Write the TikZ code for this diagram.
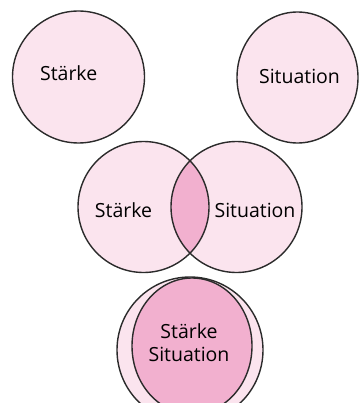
\documentclass[tikz,border=0pt]{standalone}
\usepackage{fontspec}
\setmainfont{Open Sans}
\begin{document}
\begin{tikzpicture}[x=1pt,y=-1pt,
  ring/.style={draw=ringcol,line width=1.4pt},
  lab/.style={font=\fontsize{19.5}{23}\selectfont,text=black,inner sep=0pt,align=center}]
\definecolor{ringcol}{HTML}{2B2B2B}
\definecolor{lightpink}{HTML}{FBE4EE}
\definecolor{darkpink}{HTML}{F2B0CF}
\useasboundingbox (0,0) rectangle (359,403);
\clip (0,0) rectangle (359,403);
% top
\draw[ring,fill=lightpink] (78.5,77) circle[radius=66];
\draw[ring,fill=lightpink] (297.5,77.5) ellipse[x radius=60.5,y radius=65.5];
\node[lab] (s1) at (68.7,73) {Stärke};
\node[lab] (t1) at (299.5,76) {Situation};
% middle
\fill[lightpink] (143.5,207) circle[radius=65.5];
\fill[lightpink] (236.5,207) circle[radius=65.5];
\begin{scope}
  \clip (143.5,207) circle[radius=65.5];
  \fill[darkpink] (236.5,207) circle[radius=65.5];
\end{scope}
\draw[ring] (143.5,207) circle[radius=65.5];
\draw[ring] (236.5,207) circle[radius=65.5];
\node[lab] (s2) at (123.5,210) {Stärke};
\node[lab] (t2) at (255,210) {Situation};
% bottom
\draw[ring,fill=lightpink] (190,350) circle[radius=73];
\draw[ring,fill=darkpink] (192,346) ellipse[x radius=60,y radius=68];
\node[lab] (st) at (189,343) {Stärke\\Situation};
\end{tikzpicture}
\end{document}
